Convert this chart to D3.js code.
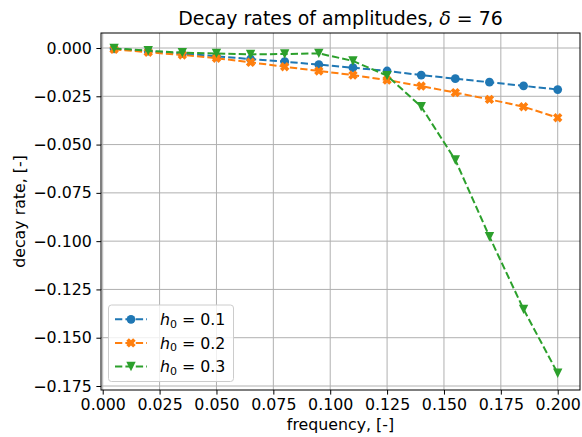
<!DOCTYPE html>
<html>
<head>
<meta charset="utf-8">
<script src="https://cdn.jsdelivr.net/npm/d3@7"></script>
<style>
html,body{margin:0;padding:0;background:#fff;}
svg{display:block;font-family:"DejaVu Sans",sans-serif;}
</style>
</head>
<body>
<div id="chart"></div>
<script>
const frequency = [0.005,0.02,0.035,0.05,0.065,0.08,0.095,0.11,0.125,0.14,0.155,0.17,0.185,0.2];
const h01 = [-0.0004,-0.0016,-0.0029,-0.0043,-0.0057,-0.0071,-0.0086,-0.0102,-0.0119,-0.0140,-0.0159,-0.0177,-0.0196,-0.0215];
const h02 = [-0.0007,-0.0022,-0.0036,-0.0053,-0.0074,-0.0097,-0.0119,-0.0140,-0.0166,-0.0197,-0.0231,-0.0266,-0.0304,-0.0361];
const h03 = [-0.0002,-0.0014,-0.0024,-0.0028,-0.0033,-0.0031,-0.0028,-0.0067,-0.0143,-0.0304,-0.0580,-0.0977,-0.1353,-0.1684];
const seriesLabels = ["0.1","0.2","0.3"];
const xTicks = [0,0.025,0.05,0.075,0.1,0.125,0.15,0.175,0.2];
const yTicks = [0,-0.025,-0.05,-0.075,-0.1,-0.125,-0.15,-0.175];
const titleText = "Decay rates of amplitudes, ";
const deltaValue = "76";

const W=582,H=437;
const L=101,R=580,T=33,B=390;
const FS=15.8;
const colors=["#1f77b4","#ff7f0e","#2ca02c"];
const markers=["circle","X","tri"];
const mSize={circle:4.4,X:4.7,tri:4.7};

const svg=d3.select("#chart").append("svg").attr("width",W).attr("height",H);
const x=d3.scaleLinear().domain([-0.00075,0.2098]).range([L,R]);
const y=d3.scaleLinear().domain([-0.17707,0.00777]).range([B,T]);

// grid
const g=svg.append("g");
g.selectAll(".gx").data(xTicks).enter().append("line")
 .attr("x1",d=>x(d)).attr("x2",d=>x(d)).attr("y1",T).attr("y2",B)
 .attr("stroke","#b0b0b0").attr("stroke-width",1);
g.selectAll(".gy").data(yTicks).enter().append("line")
 .attr("y1",d=>y(d)).attr("y2",d=>y(d)).attr("x1",L).attr("x2",R)
 .attr("stroke","#b0b0b0").attr("stroke-width",1);

// axes
const fmt=d3.format(".3f");
const minusFmt=d=>fmt(d).replace("-","\u2212");
const xAxis=svg.append("g").attr("transform",`translate(0,${B})`)
 .call(d3.axisBottom(x).tickValues(xTicks).tickFormat(minusFmt).tickSize(4.6).tickPadding(4.6));
const yAxis=svg.append("g").attr("transform",`translate(${L},0)`)
 .call(d3.axisLeft(y).tickValues(yTicks).tickFormat(minusFmt).tickSize(4.6).tickPadding(4.6));
[xAxis,yAxis].forEach(a=>{
 a.select(".domain").remove();
 a.selectAll("text").attr("font-size",FS+"px").attr("font-family","DejaVu Sans").attr("fill","#000");
 a.selectAll("line").attr("stroke","#000").attr("stroke-width",1);
});

// markers
function markerPath(type,r){
 if(type==="circle") return d3.symbol().type(d3.symbolCircle).size(Math.PI*r*r)();
 if(type==="tri") return `M${-r},${-r}L${r},${-r}L0,${r}Z`;
 const s=r, t=r*0.55;
 return `M${-s},${-s+t}L${-s+t},${-s}L0,${-t}L${s-t},${-s}L${s},${-s+t}L${t},0L${s},${s-t}L${s-t},${s}L0,${t}L${-s+t},${s}L${-s},${s-t}L${-t},0Z`;
}

const allSeries=[h01,h02,h03];
const line=d3.line().x(d=>x(d[0])).y(d=>y(d[1]));
const plot=svg.append("g");
allSeries.forEach((vals,i)=>{
 const data=frequency.map((f,k)=>[f,vals[k]]);
 plot.append("path").attr("d",line(data)).attr("fill","none")
  .attr("stroke",colors[i]).attr("stroke-width",2).attr("stroke-dasharray","7.3,3.1");
 plot.selectAll(".m"+i).data(data).enter().append("path")
  .attr("d",markerPath(markers[i],mSize[markers[i]]))
  .attr("transform",d=>`translate(${x(d[0])},${y(d[1])})`)
  .attr("fill",colors[i]);
});

// spines
svg.append("rect").attr("x",L).attr("y",T).attr("width",R-L).attr("height",B-T)
 .attr("fill","none").attr("stroke","#000").attr("stroke-width",1);

// title
const title=svg.append("text").attr("x",(L+R)/2).attr("y",25).attr("text-anchor","middle")
 .attr("font-size","18.9px").attr("fill","#000");
title.append("tspan").text(titleText);
title.append("tspan").attr("font-style","italic").text("\u03B4");
title.append("tspan").text(" = "+deltaValue);

// axis labels
svg.append("text").attr("x",(L+R)/2).attr("y",430).attr("text-anchor","middle")
 .attr("font-size",FS+"px").attr("fill","#000").text("frequency, [-]");
svg.append("text").attr("transform",`translate(25,${(T+B)/2}) rotate(-90)`).attr("text-anchor","middle")
 .attr("font-size",FS+"px").attr("fill","#000").text("decay rate, [-]");

// legend
const lg=svg.append("g");
lg.append("rect").attr("x",108.5).attr("y",305).attr("width",125).attr("height",76.5).attr("rx",3)
 .attr("fill","#fff").attr("fill-opacity",0.8).attr("stroke","#cccccc").attr("stroke-width",1);
const rows=[319.3,342.9,366.5];
seriesLabels.forEach((lab,i)=>{
 const yy=rows[i];
 lg.append("line").attr("x1",115).attr("x2",147).attr("y1",yy).attr("y2",yy)
  .attr("stroke",colors[i]).attr("stroke-width",2).attr("stroke-dasharray","7.3,3.1");
 lg.append("path").attr("d",markerPath(markers[i],mSize[markers[i]])).attr("transform",`translate(131,${yy})`).attr("fill",colors[i]);
 const t=lg.append("text").attr("x",160).attr("y",yy+5.6).attr("font-size",FS+"px").attr("fill","#000");
 t.append("tspan").attr("font-style","italic").text("h");
 t.append("tspan").attr("font-size","11px").attr("dy",2.8).text("0");
 t.append("tspan").attr("dy",-2.8).text(" = "+lab);
});
</script>
</body>
</html>
